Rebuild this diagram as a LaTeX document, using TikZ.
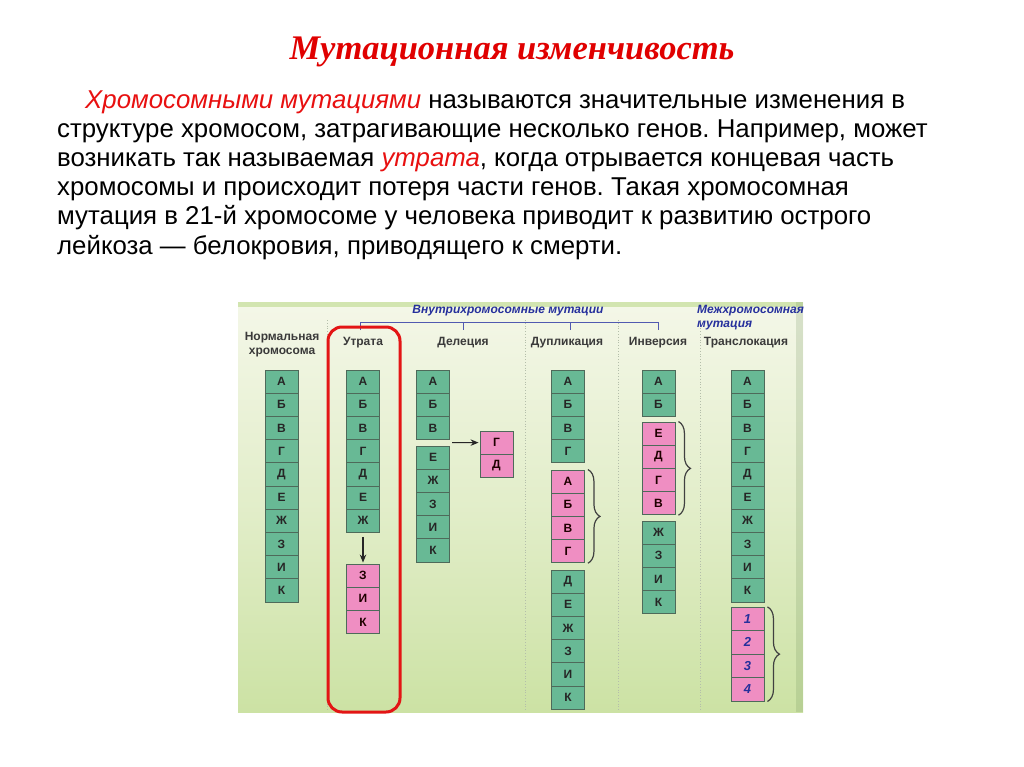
\documentclass[tikz,border=0pt]{standalone}
\usepackage{fontspec}
\setmainfont{Liberation Sans}
\newfontfamily\serifttl{Liberation Serif}
\usetikzlibrary{arrows.meta,decorations.pathreplacing,calc}
\frenchspacing
\definecolor{titlered}{HTML}{E00000}
\definecolor{txtred}{HTML}{E81010}
\definecolor{cellgreen}{HTML}{68B995}
\definecolor{cellborder}{HTML}{4E6A5A}
\definecolor{cellpink}{HTML}{EF8EC2}
\definecolor{navy}{HTML}{26309C}
\definecolor{bgtop}{HTML}{F4F7E8}
\definecolor{bgbot}{HTML}{CCE2A4}
\definecolor{band}{HTML}{D2E5B0}
\definecolor{divider}{HTML}{B4BEAA}
\definecolor{hdr}{HTML}{3A3A3A}
\definecolor{boxred}{HTML}{E31515}
\tikzset{
  cellg/.style={draw=cellborder, line width=0.9pt, fill=cellgreen, minimum width=33pt, minimum height=23.2pt, inner sep=0pt, font=\fontsize{12}{13}\selectfont\bfseries, text=black!85},
  cellp/.style={cellg, fill=cellpink, text=black!80!red!60!black},
  cellnum/.style={cellg, fill=cellpink, font=\fontsize{13}{14}\selectfont\bfseries\itshape, text=navy},
  hdrtext/.style={font=\fontsize{12}{14}\selectfont\bfseries, text=hdr, anchor=base, inner sep=0pt},
  bluetext/.style={font=\fontsize{12}{14}\selectfont\bfseries\itshape, text=navy, inner sep=0pt},
  bodytext/.style={font=\fontsize{25.8}{29}\selectfont, anchor=base west, inner sep=0pt},
  arr/.style={-{Stealth[length=8pt,width=6.5pt]}, line width=1.2pt, black!85},
  bracelines/.style={decorate, decoration={brace, amplitude=12pt}, line width=1.2pt, black!75},
  divline/.style={divider, dotted, line width=0.8pt},
  bluebracket/.style={navy!80, line width=0.9pt},
}
\begin{document}
\begin{tikzpicture}[x=1pt,y=-1pt]
\useasboundingbox (0,0) rectangle (1024,767);
\fill[white] (0,0) rectangle (1024,767);
% title
\node[font=\serifttl\fontsize{34.5}{40}\selectfont\bfseries\itshape, text=titlered, anchor=base, inner sep=0pt] (title) at (512,60) {Мутационная изменчивость};
% body
\node[bodytext] (l1) at (85,109) {\textcolor{txtred}{\itshape Хромосомными мутациями} называются значительные изменения в};
\node[bodytext] (l2) at (57,138) {структуре хромосом, затрагивающие несколько генов. Например, может};
\node[bodytext] (l3) at (57,167) {возникать так называемая \textcolor{txtred}{\itshape утрата}, когда отрывается концевая часть};
\node[bodytext] (l4) at (57,196) {хромосомы и происходит потеря части генов. Такая хромосомная};
\node[bodytext] (l5) at (57,225) {мутация в 21-й хромосоме у человека приводит к развитию острого};
\node[bodytext] (l6) at (57,254) {лейкоза — белокровия, приводящего к смерти.};
% panel
\shade[top color=bgtop, bottom color=bgbot, middle color=bgtop!55!bgbot] (238,302) rectangle (803,712);
\fill[band] (238,302) rectangle (803,307);
\fill[bgbot!85!green!60!black, opacity=0.2] (796,302) rectangle (803,712);
% dividers
\foreach \xx in {327,525,618,700} \draw[divline] (\xx,320) -- (\xx,711);
% blue labels
\node[bluetext, anchor=base] (intra) at (508,313) {Внутрихромосомные мутации};
\node[bluetext, anchor=base west] (inter1) at (697,313) {Межхромосомная};
\node[bluetext, anchor=base west] (inter2) at (697,327) {мутация};
\draw[bluebracket] (360,330) -- (360,322) -- (658,322) -- (658,330);
\draw[bluebracket] (463,322) -- (463,330);
\draw[bluebracket] (570,322) -- (570,330);
% headers
\node[hdrtext] (hn1) at (282,340) {Нормальная};
\node[hdrtext] (hn2) at (282,354) {хромосома};
\node[hdrtext] (hu) at (363,345) {Утрата};
\node[hdrtext] (hd) at (463,345) {Делеция};
\node[hdrtext] (hp) at (567,345) {Дупликация};
\node[hdrtext] (hi) at (658,345) {Инверсия};
\node[hdrtext] (ht) at (746,345) {Транслокация};
% normal
\foreach \t [count=\i] in {А,Б,В,Г,Д,Е,Ж,З,И,К}
  \node[cellg] (n\i) at (281.5,{358.4+\i*23.2}) {\t};
% utrata
\foreach \t [count=\i] in {А,Б,В,Г,Д,Е,Ж}
  \node[cellg] (u\i) at (363,{358.4+\i*23.2}) {\t};
\foreach \t [count=\i] in {З,И,К}
  \node[cellp] (up\i) at (363,{552.4+\i*23.2}) {\t};
\draw[arr, shorten <=4pt, shorten >=1pt] (u7) -- (up1);
% deletion
\foreach \t [count=\i] in {А,Б,В}
  \node[cellg] (d\i) at (433,{358.4+\i*23.2}) {\t};
\foreach \t [count=\i] in {Е,Ж,З,И,К}
  \node[cellg] (de\i) at (433,{434.4+\i*23.2}) {\t};
\foreach \t [count=\i] in {Г,Д}
  \node[cellp] (dp\i) at (496.5,{419.4+\i*23.2}) {\t};
\coordinate (dgap) at (452,442.6);
\draw[arr, shorten >=1pt] (dgap) -- (dp1.west);
% duplication
\foreach \t [count=\i] in {А,Б,В,Г}
  \node[cellg] (p\i) at (568,{358.4+\i*23.2}) {\t};
\foreach \t [count=\i] in {А,Б,В,Г}
  \node[cellp] (pp\i) at (568,{458.4+\i*23.2}) {\t};
\foreach \t [count=\i] in {Д,Е,Ж,З,И,К}
  \node[cellg] (pe\i) at (568,{558.4+\i*23.2}) {\t};
\draw[bracelines] ($(pp1.north east)+(3,0)$) -- ($(pp4.south east)+(3,0)$);
% inversion
\foreach \t [count=\i] in {А,Б}
  \node[cellg] (i\i) at (658.5,{358.4+\i*23.2}) {\t};
\foreach \t [count=\i] in {Е,Д,Г,В}
  \node[cellp] (ip\i) at (658.5,{410.4+\i*23.2}) {\t};
\foreach \t [count=\i] in {Ж,З,И,К}
  \node[cellg] (ie\i) at (658.5,{509.4+\i*23.2}) {\t};
\draw[bracelines] ($(ip1.north east)+(3,0)$) -- ($(ip4.south east)+(3,0)$);
% translocation
\foreach \t [count=\i] in {А,Б,В,Г,Д,Е,Ж,З,И,К}
  \node[cellg] (t\i) at (747.5,{358.4+\i*23.2}) {\t};
\foreach \t [count=\i] in {1,2,3,4}
  \node[cellnum] (tp\i) at (747.5,{595.4+\i*23.5}) {\t};
\draw[bracelines] ($(tp1.north east)+(3,0)$) -- ($(tp4.south east)+(3,0)$);
% red frame
\draw[boxred, line width=3pt, rounded corners=14pt] (328,327) rectangle (400,712);
\end{tikzpicture}
\end{document}
